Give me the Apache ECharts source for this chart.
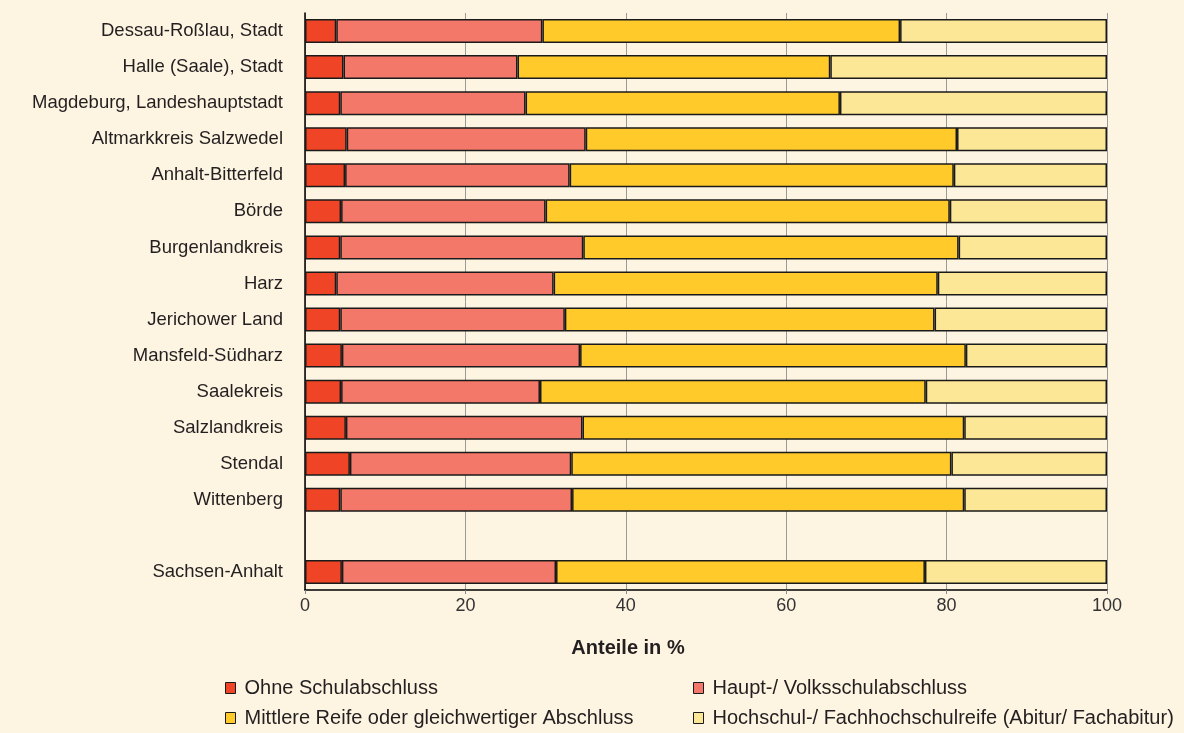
<!DOCTYPE html>
<html>
<head>
<meta charset="utf-8">
<script src="https://cdn.jsdelivr.net/npm/echarts@6/dist/echarts.min.js"></script>
<style>
  html, body { margin: 0; padding: 0; background: #fdf4e1; }
  #chart { width: 1184px; height: 733px; }
</style>
</head>
<body>
<div id="chart"></div>
<script>
// categories, top to bottom (empty slot = gap before state total)
var categories = [
  "Dessau-Roßlau, Stadt", "Halle (Saale), Stadt", "Magdeburg, Landeshauptstadt",
  "Altmarkkreis Salzwedel", "Anhalt-Bitterfeld", "Börde", "Burgenlandkreis", "Harz",
  "Jerichower Land", "Mansfeld-Südharz", "Saalekreis", "Salzlandkreis", "Stendal",
  "Wittenberg", "", "Sachsen-Anhalt"
];
var seriesNames = [
  "Ohne Schulabschluss",
  "Haupt-/ Volksschulabschluss",
  "Mittlere Reife oder gleichwertiger Abschluss",
  "Hochschul-/ Fachhochschulreife (Abitur/ Fachabitur)"
];
// shares in %
var ohne      = [3.9, 4.8, 4.4, 5.2, 5.0, 4.5, 4.4, 3.9, 4.4, 4.6, 4.5, 5.1, 5.6, 4.4, null, 4.6];
var haupt     = [25.7, 21.7, 23.1, 29.8, 28.0, 25.5, 30.3, 27.1, 28.0, 29.7, 24.8, 29.5, 27.6, 28.9, null, 26.7];
var mittlere  = [44.6, 39.0, 39.2, 46.3, 47.9, 50.4, 46.8, 47.9, 46.1, 48.1, 48.1, 47.6, 47.4, 48.9, null, 46.0];
var hochschul = [25.8, 34.5, 33.3, 18.7, 19.1, 19.6, 18.5, 21.1, 21.5, 17.6, 22.6, 17.8, 19.4, 17.8, null, 22.7];

var colors = ["#ef4426", "#f37869", "#ffca2a", "#fce797"];
var values = [ohne, haupt, mittlere, hochschul];
var font = "Liberation Sans, Arial, sans-serif";

var chart = echarts.init(document.getElementById("chart"));

var series = [];
for (var i = 0; i < seriesNames.length; i++) {
  series.push({
    name: seriesNames[i],
    type: "bar",
    stack: "total",
    barWidth: 24,
    itemStyle: {
      color: colors[i],
      borderColor: "#1a1a1a",
      borderWidth: 1.5
    },
    data: values[i]
  });
}

// legend is 2x2: one small legend per entry
var legendLeft = [225, 693, 225, 693];
var legendTop = [678, 678, 708, 708];
var legends = [];
for (var j = 0; j < seriesNames.length; j++) {
  legends.push({
    data: [seriesNames[j]],
    left: legendLeft[j],
    top: legendTop[j],
    padding: 0,
    itemWidth: 10,
    itemHeight: 11,
    icon: "rect",
    itemStyle: { borderColor: "#1a1a1a", borderWidth: 1 },
    textStyle: { fontFamily: font, fontSize: 20, color: "#231f20", padding: [0, 0, 0, 4] }
  });
}

var option = {
  backgroundColor: "#fdf4e1",
  animation: false,
  color: colors,
  grid: {
    left: 305,
    right: 77,
    top: 13,
    bottom: 143
  },
  legend: legends,
  xAxis: {
    type: "value",
    min: 0,
    max: 100,
    interval: 20,
    name: "Anteile in %",
    nameLocation: "middle",
    nameGap: 48,
    // axis title sits left of the plot centre in the original
    nameTextStyle: { fontFamily: font, fontSize: 20, fontWeight: "bold", color: "#231f20", padding: [0, 156, 0, 0] },
    axisLine: { show: true, lineStyle: { color: "#000", width: 1.5 } },
    axisTick: { show: true, length: 4, lineStyle: { color: "#888" } },
    axisLabel: { fontFamily: font, fontSize: 18, color: "#333", margin: 7 },
    splitLine: { show: true, lineStyle: { color: "#9a9a9a", width: 1 } }
  },
  yAxis: {
    type: "category",
    inverse: true,
    data: categories,
    axisLine: { show: true, lineStyle: { color: "#000", width: 1.5 } },
    axisTick: { show: false },
    axisLabel: { fontFamily: font, fontSize: 18.5, color: "#231f20", margin: 22 }
  },
  series: series
};

chart.setOption(option);
</script>
</body>
</html>
